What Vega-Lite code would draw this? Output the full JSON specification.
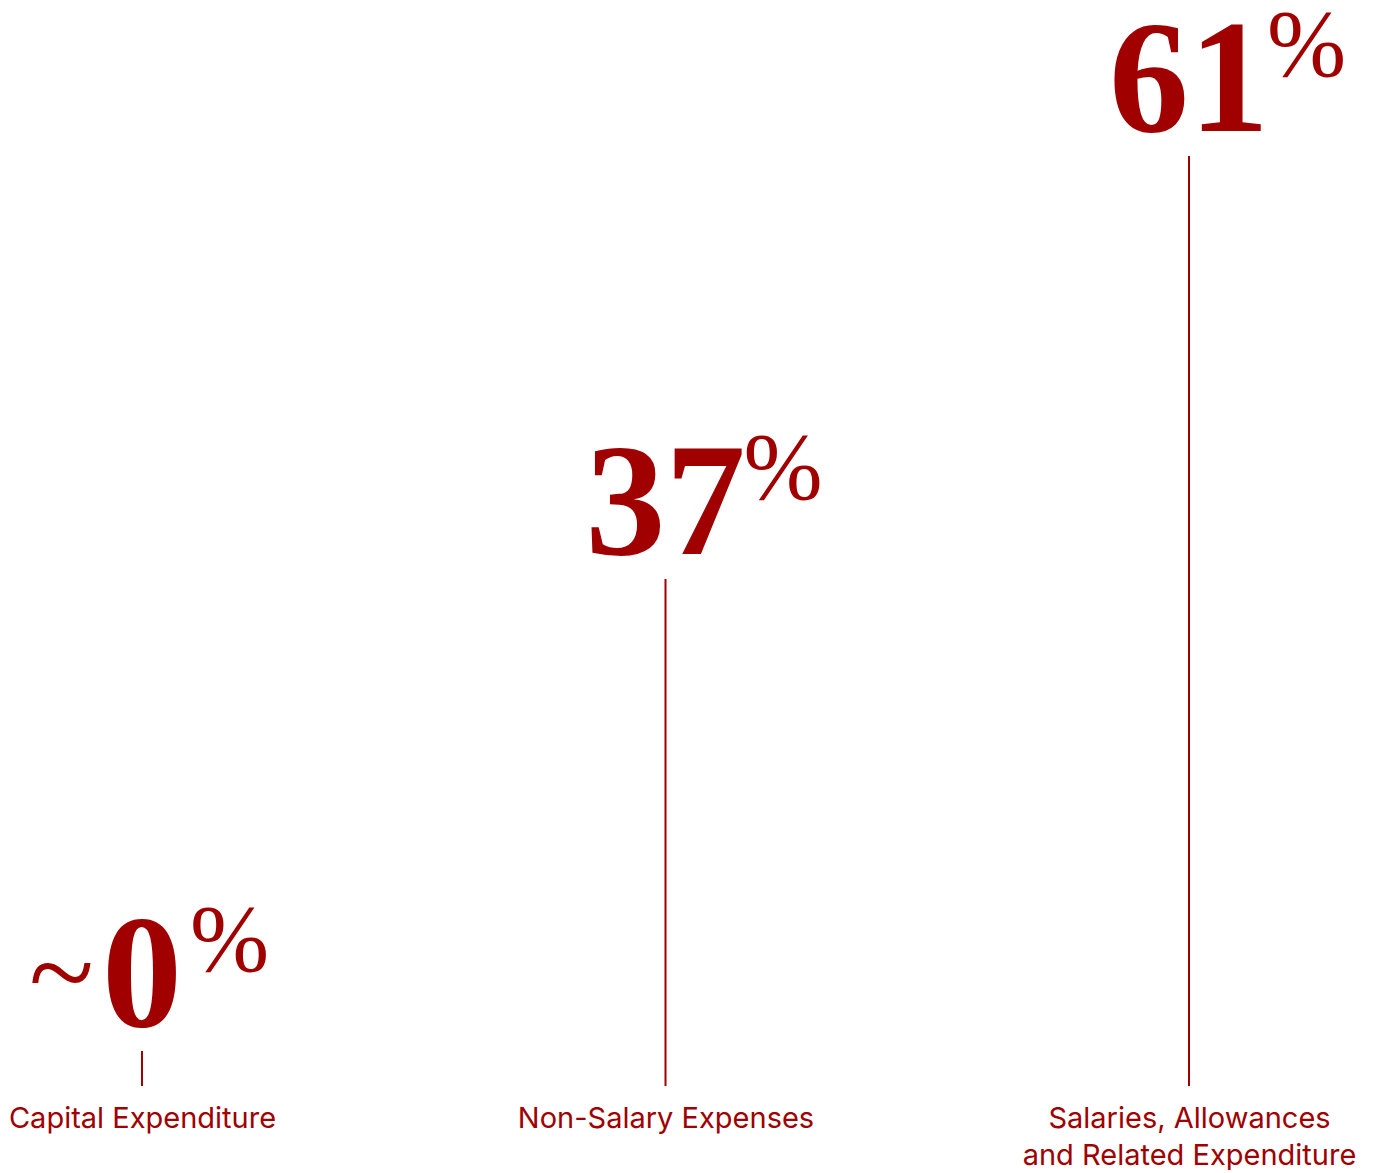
{
  "$schema": "https://vega.github.io/schema/vega-lite/v6.json",
  "width": 1378,
  "height": 1085,
  "padding": 0,
  "autosize": {"type": "pad"},
  "background": "#ffffff",
  "config": {"view": {"stroke": null}},
  "data": {
    "values": [
      {"category": "Capital Expenditure", "value": 0, "digits": "0", "prefix": "~"},
      {"category": "Non-Salary Expenses", "value": 37, "digits": "37", "prefix": ""},
      {"category": "Salaries, Allowances and Related Expenditure", "value": 61, "digits": "61", "prefix": ""}
    ]
  },
  "encoding": {
    "x": {
      "field": "category",
      "type": "nominal",
      "sort": null,
      "scale": {"type": "point", "range": [142, 1189], "padding": 0},
      "axis": {
        "title": null,
        "domain": false,
        "ticks": false,
        "grid": false,
        "labelAngle": 0,
        "labelFont": "Inter",
        "labelFontSize": 29,
        "labelColor": "#a00000",
        "labelBaseline": "top",
        "labelPadding": 18,
        "labelLineHeight": 37,
        "labelLimit": 0,
        "labelOverlap": false,
        "labelExpr": "datum.value == 'Salaries, Allowances and Related Expenditure' ? ['Salaries, Allowances', 'and Related Expenditure'] : datum.label"
      }
    },
    "y": {
      "field": "value",
      "type": "quantitative",
      "scale": {"type": "pow", "exponent": 1.28, "domain": [0, 61], "range": [1050, 155], "zero": false, "nice": false},
      "axis": null
    }
  },
  "layer": [
    {
      "mark": {"type": "rule", "color": "#a00000", "strokeWidth": 2, "y2": "height"}
    },
    {
      "mark": {"type": "text", "color": "#a00000", "font": "Liberation Serif", "fontWeight": "bold", "fontSize": 160, "align": "center", "baseline": "alphabetic", "dy": -25},
      "encoding": {"text": {"field": "digits"}}
    },
    {
      "transform": [{"filter": "datum.prefix != ''"}],
      "mark": {"type": "text", "color": "#a00000", "font": "Liberation Serif", "fontWeight": "normal", "fontSize": 120, "align": "right", "baseline": "alphabetic", "dx": -48, "dy": -38},
      "encoding": {"text": {"field": "prefix"}}
    },
    {
      "transform": [{"filter": "length(datum.digits) == 1"}],
      "mark": {"type": "text", "color": "#a00000", "font": "Liberation Serif", "fontSize": 95, "align": "left", "baseline": "alphabetic", "dx": 48, "dy": -80},
      "encoding": {"text": {"value": "%"}}
    },
    {
      "transform": [{"filter": "length(datum.digits) == 2"}],
      "mark": {"type": "text", "color": "#a00000", "font": "Liberation Serif", "fontSize": 95, "align": "left", "baseline": "alphabetic", "dx": 78, "dy": -80},
      "encoding": {"text": {"value": "%"}}
    }
  ]
}
